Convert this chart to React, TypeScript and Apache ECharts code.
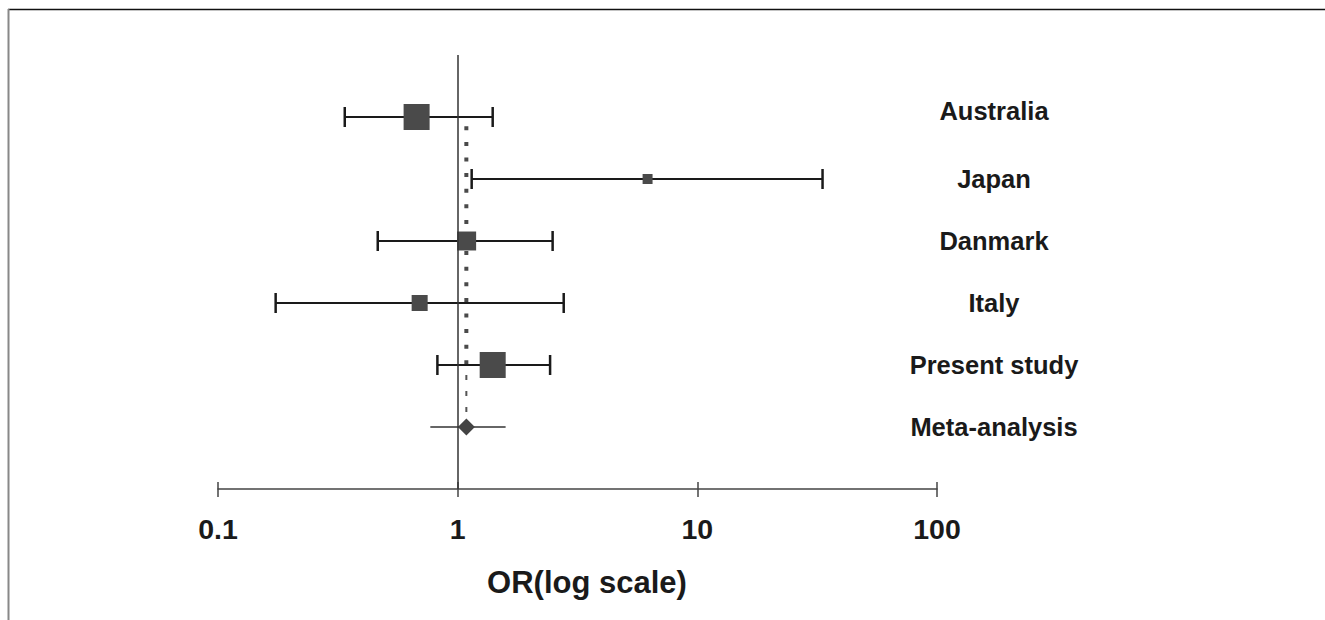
import React, { useEffect, useRef } from "react";
import * as echarts from "echarts";

const studies = ["Australia", "Japan", "Danmark", "Italy", "Present study", "Meta-analysis"];
const oddsRatio = [0.674, 6.2, 1.09, 0.694, 1.4, 1.087];
const ciLower = [0.338, 1.144, 0.464, 0.174, 0.823, 0.769];
const ciUpper = [1.4, 33.3, 2.49, 2.77, 2.43, 1.585];
const studyWeight = [32.7, 4.8, 17.4, 12.4, 32.7];
const tickValues = [0.1, 1, 10, 100];

const FONT = "'Liberation Sans', Arial, Helvetica, sans-serif";

export default function App() {
  const ref = useRef<HTMLDivElement>(null);
  useEffect(() => {
    document.body.style.margin = "0";
    document.body.style.overflow = "hidden";
    const chart = echarts.init(ref.current!, null, { renderer: "svg" });
    const metaIdx = studies.length - 1;
    const metaOR = oddsRatio[metaIdx];

    const barData = studies.map((_, i) => [ciLower[i], ciUpper[i], i]);
    const squareData = studyWeight.map((w, i) => ({
      value: [oddsRatio[i], i],
      symbolSize: 4.55 * Math.sqrt(w),
    }));

    const labelStyle = {
      fontSize: 25.5,
      fontWeight: "bold",
      fontFamily: FONT,
      color: "#1a1a1a",
    };

    chart.setOption({
      animation: false,
      backgroundColor: "#fff",
      grid: { left: 218, right: 388, top: 55, height: 434 },
      graphic: [
        { type: "line", shape: { x1: 8, y1: 9.5, x2: 1325, y2: 9.5 }, style: { stroke: "#111", lineWidth: 1.5 } },
        { type: "line", shape: { x1: 8.5, y1: 9, x2: 8.5, y2: 620 }, style: { stroke: "#888", lineWidth: 2 } },
      ],
      xAxis: [
        {
          type: "log",
          logBase: 10,
          min: 0.1,
          max: 100,
          position: "bottom",
          axisLine: { show: true, onZero: false, lineStyle: { color: "#444", width: 1.5 } },
          axisTick: { show: true, inside: false, length: 8, lineStyle: { color: "#444", width: 1.5 } },
          splitLine: { show: false },
          axisLabel: {
            margin: 25,
            fontSize: 28.5,
            fontWeight: "bold",
            fontFamily: FONT,
            color: "#1a1a1a",
            formatter: (v: number) => {
              const t = tickValues.find((x) => Math.abs(Math.log10(x) - Math.log10(v)) < 1e-6);
              return t !== undefined ? String(t) : "";
            },
          },
          name: "OR(log scale)",
          nameLocation: "middle",
          nameGap: 78,
          nameTextStyle: {
            fontSize: 31,
            fontWeight: "bold",
            fontFamily: FONT,
            color: "#1a1a1a",
            padding: [0, 0, 0, 19],
          },
        },
        {
          type: "log",
          logBase: 10,
          min: 0.1,
          max: 100,
          position: "bottom",
          axisLine: { show: false, onZero: false },
          axisTick: { show: true, inside: true, length: 7, lineStyle: { color: "#444", width: 1.5 } },
          axisLabel: { show: false },
          splitLine: { show: false },
        },
      ],
      yAxis: [
        {
          type: "value",
          min: -1,
          max: 6,
          interval: 1,
          inverse: true,
          position: "right",
          axisLine: { show: false, onZero: false },
          axisTick: { show: false },
          splitLine: { show: false },
          axisLabel: {
            margin: 57,
            align: "center",
            ...labelStyle,
            rich: {
              up: { ...labelStyle, padding: [0, 0, 12, 0] },
            },
            formatter: (v: number) => {
              if (!(v >= 0 && v < studies.length)) return "";
              return v === 0 ? `{up|${studies[v]}}` : studies[v];
            },
          },
        },
      ],
      series: [
        {
          type: "line",
          silent: true,
          data: [[metaOR, 0.15], [metaOR, 4.0]],
          showSymbol: false,
          symbol: "none",
          lineStyle: { type: [4, 11.6], width: 4, color: "#4a4a4a", cap: "butt" },
          z: 1,
          markLine: {
            silent: true,
            symbol: "none",
            label: { show: false },
            lineStyle: { type: "solid", color: "#333", width: 1.5 },
            data: [{ xAxis: 1 }],
          },
        },
        {
          type: "line",
          silent: true,
          data: [[metaOR, 4.16], [metaOR, 4.8]],
          showSymbol: false,
          symbol: "none",
          lineStyle: { type: [5, 11], width: 2, color: "#555", cap: "butt" },
          z: 1,
        },
        {
          type: "custom",
          silent: true,
          data: barData,
          z: 3,
          renderItem: (params: any, api: any) => {
            const i = api.value(2);
            const p1 = api.coord([api.value(0), i]);
            const p2 = api.coord([api.value(1), i]);
            const isMeta = i === metaIdx;
            const children: any[] = [
              {
                type: "line",
                shape: { x1: p1[0], y1: p1[1], x2: p2[0], y2: p2[1] },
                style: { stroke: isMeta ? "#333" : "#1a1a1a", lineWidth: isMeta ? 1.5 : 2 },
              },
            ];
            if (!isMeta) {
              children.push(
                { type: "line", shape: { x1: p1[0], y1: p1[1] - 10, x2: p1[0], y2: p1[1] + 10 }, style: { stroke: "#1a1a1a", lineWidth: 2.5 } },
                { type: "line", shape: { x1: p2[0], y1: p2[1] - 10, x2: p2[0], y2: p2[1] + 10 }, style: { stroke: "#1a1a1a", lineWidth: 2.5 } }
              );
            }
            return { type: "group", children };
          },
        },
        {
          type: "scatter",
          silent: true,
          symbol: "rect",
          data: squareData,
          itemStyle: { color: "#4a4a4a", opacity: 1 },
          z: 4,
        },
        {
          type: "scatter",
          silent: true,
          symbol: "diamond",
          symbolSize: 17,
          data: [[metaOR, metaIdx]],
          itemStyle: { color: "#444", opacity: 1 },
          z: 4,
        },
      ],
    });
    return () => chart.dispose();
  }, []);
  return <div ref={ref} style={{ width: 1325, height: 620 }} />;
}
